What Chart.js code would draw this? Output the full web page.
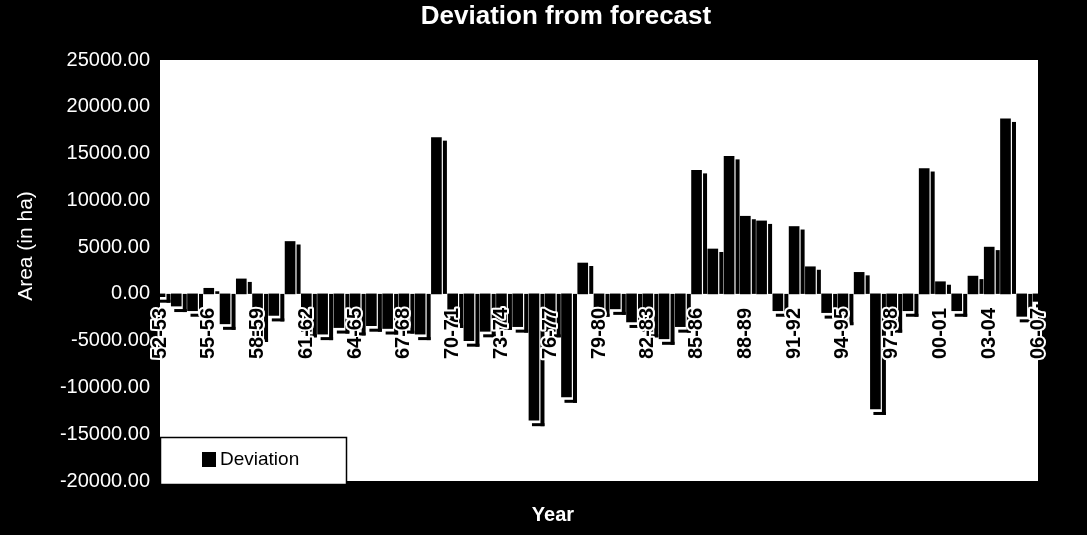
<!DOCTYPE html>
<html>
<head>
<meta charset="utf-8">
<script src="https://cdn.jsdelivr.net/npm/chart.js@4.4.0/dist/chart.umd.min.js"></script>
<style>
  html, body { margin: 0; padding: 0; background: #000; }
  #wrap { width: 1087px; height: 535px; position: relative; }
</style>
</head>
<body>
<div id="wrap"><canvas id="c" width="1087" height="535"></canvas></div>
<script>
// Crop years 1952-53 .. 2006-07
const years = [
  '52-53','53-54','54-55','55-56','56-57','57-58','58-59','59-60','60-61','61-62',
  '62-63','63-64','64-65','65-66','66-67','67-68','68-69','69-70','70-71','71-72',
  '72-73','73-74','74-75','75-76','76-77','77-78','78-79','79-80','80-81','81-82',
  '82-83','83-84','84-85','85-86','86-87','87-88','88-89','89-90','90-91','91-92',
  '92-93','93-94','94-95','95-96','96-97','97-98','98-99','99-00','00-01','01-02',
  '02-03','03-04','04-05','05-06','06-07'
];

// Deviation of actual area from forecast (ha)
const deviation = [
  -300, -1300, -1800, 600, -3200, 1600, -4500, -2300, 5600, -4000,
  -4300, -3600, -3800, -3400, -3700, -3600, -4300, 16700, -3000, -5000,
  -4000, -3200, -3500, -13500, -4000, -11000, 3300, -1800, -1600, -3000,
  -4000, -4800, -3500, 13200, 4800, 14700, 8300, 7800, -1800, 7200,
  2900, -2000, -2700, 2300, -12300, -3500, -1800, 13400, 1300, -1800,
  1900, 5000, 18700, -2400, -800
];

// Value axis range
const yMin = -20000;
const yMax = 25000;
const yStep = 5000;

const labelFont = '"Liberation Sans", Arial, sans-serif';

// Black page, white plotting area
const backdrop = {
  id: 'backdrop',
  beforeDraw(chart) {
    const { ctx, chartArea: a } = chart;
    ctx.save();
    ctx.fillStyle = '#000';
    ctx.fillRect(0, 0, chart.width, chart.height);
    ctx.fillStyle = '#fff';
    ctx.fillRect(a.left, a.top, a.right - a.left, a.bottom - a.top);
    ctx.restore();
  }
};

// Side face of each column, giving the bars their depth
const depth = {
  id: 'depth',
  afterDatasetsDraw(chart) {
    const { ctx, chartArea: a } = chart;
    const meta = chart.getDatasetMeta(0);
    ctx.save();
    ctx.beginPath();
    ctx.rect(a.left, a.top, a.right - a.left, a.bottom - a.top);
    ctx.clip();
    ctx.fillStyle = '#000';
    meta.data.forEach(bar => {
      const { x, y, base, width } = bar.getProps(['x', 'y', 'base', 'width'], true);
      const sx = x + width / 2 + 1.5;
      const sw = 4;
      if (y < base) {
        ctx.fillRect(sx, y + 3, sw, base - y - 3);
      } else {
        ctx.fillRect(sx, base, sw, y - base + 6);
        ctx.fillRect(x - width / 2 + 3, y + 3, width + sw - 1.5, 3);
      }
    });
    ctx.restore();
  }
};

// Year labels hung under the zero line, drawn over the columns
const yearLabels = {
  id: 'yearLabels',
  afterDraw(chart) {
    const { ctx } = chart;
    const xs = chart.scales.x;
    const y0 = chart.scales.y.getPixelForValue(0) + 14;
    ctx.save();
    ctx.font = 'bold 20px ' + labelFont;
    ctx.textAlign = 'right';
    ctx.textBaseline = 'middle';
    ctx.lineJoin = 'round';
    years.forEach((lab, i) => {
      if (i % 3 !== 0) return;
      const x = xs.getPixelForValue(i);
      ctx.save();
      ctx.translate(x, y0);
      ctx.rotate(-Math.PI / 2);
      ctx.strokeStyle = '#fff';
      ctx.lineWidth = 4;
      ctx.strokeText(lab, 0, 0);
      ctx.fillStyle = '#000';
      ctx.fillText(lab, 0, 0);
      ctx.restore();
    });
    ctx.restore();
  }
};

// Title, axis captions and legend box
const annotations = {
  id: 'annotations',
  afterDraw(chart) {
    const { ctx, chartArea: a } = chart;
    ctx.save();
    ctx.fillStyle = '#fff';
    ctx.textAlign = 'center';
    ctx.textBaseline = 'middle';
    ctx.font = 'bold 26px ' + labelFont;
    ctx.fillText('Deviation from forecast', 566, 17);
    ctx.font = 'bold 20px ' + labelFont;
    ctx.fillText('Year', 553, 515);

    ctx.save();
    ctx.translate(26, 246);
    ctx.rotate(-Math.PI / 2);
    ctx.font = '21px ' + labelFont;
    ctx.fillText('Area (in ha)', 0, 0);
    ctx.restore();

    // legend
    const lx = a.left, ly = 437, lw = 187, lh = 48;
    ctx.fillStyle = '#fff';
    ctx.fillRect(lx, ly, lw, lh);
    ctx.strokeStyle = '#000';
    ctx.lineWidth = 1.5;
    ctx.strokeRect(lx + 0.5, ly + 0.5, lw - 1, lh - 1);
    ctx.fillStyle = '#000';
    ctx.fillRect(lx + 42, ly + 15, 14, 15);
    ctx.textAlign = 'left';
    ctx.font = '19px ' + labelFont;
    ctx.fillText(chart.data.datasets[0].label, lx + 60, ly + 23);
    ctx.restore();
  }
};

new Chart(document.getElementById('c'), {
  type: 'bar',
  data: {
    labels: years,
    datasets: [{
      label: 'Deviation',
      data: deviation,
      backgroundColor: '#000',
      borderWidth: 0,
      barThickness: 10
    }]
  },
  options: {
    responsive: false,
    animation: false,
    devicePixelRatio: 1,
    layout: { padding: { top: 60, right: 49, bottom: 54, left: 0 } },
    plugins: {
      legend: { display: false },
      title: { display: false },
      tooltip: { enabled: false }
    },
    scales: {
      x: {
        type: 'category',
        position: { y: 0 },
        offset: false,
        grid: { display: false, drawTicks: false },
        border: { display: false },
        ticks: { display: false }
      },
      y: {
        min: yMin,
        max: yMax,
        grid: { display: false, drawTicks: false },
        border: { display: false },
        afterFit(scale) { scale.width = 160; },
        ticks: {
          stepSize: yStep,
          padding: 10,
          color: '#fff',
          font: { family: labelFont, size: 20 },
          callback(v) { return Number(v).toFixed(2); }
        }
      }
    }
  },
  plugins: [backdrop, depth, yearLabels, annotations]
});
</script>
</body>
</html>
